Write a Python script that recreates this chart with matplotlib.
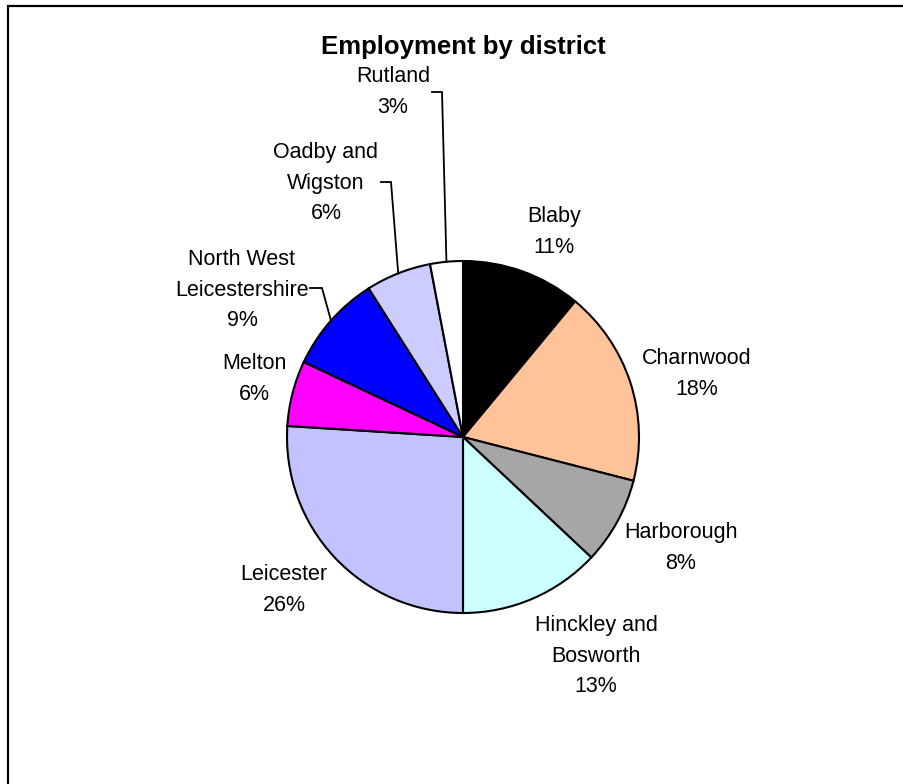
import numpy as np
import matplotlib
matplotlib.use("Agg")
import matplotlib.pyplot as plt

plt.rcParams["font.family"] = ["Liberation Sans", "DejaVu Sans"]

# employment share by district (%)
districts = ["Blaby", "Charnwood", "Harborough", "Hinckley and\nBosworth",
             "Leicester", "Melton", "North West\nLeicestershire",
             "Oadby and\nWigston", "Rutland"]
shares = [11, 18, 8, 13, 26, 6, 9, 6, 3]
colors = ["#000000", "#FFC299", "#A6A6A6", "#CCFFFF", "#C2C2FF",
          "#FF00FF", "#0000FF", "#CCCCFF", "#FFFFFF"]

# label block centres (pixels) and which labels get a leader line
label_pos = [(554, 232), (697, 374), (681, 548), (596, 656), (284, 590),
             (254, 379), (242, 290), (326, 183), (393, 92)]
leader_start = {6: (310, 288), 7: (381, 182), 8: (432, 92)}
leader_elbow = {6: (322, 288), 7: (391, 182), 8: (442, 92)}

W, H = 904, 784
fig = plt.figure(figsize=(W / 100, H / 100), dpi=100, facecolor="white")
ax = fig.add_axes([0, 0, 1, 1])

cx, cy, r = 463, 437, 176
wedges, _ = ax.pie(shares, colors=colors, startangle=-90, counterclock=True,
                   center=(cx, cy), radius=r,
                   wedgeprops=dict(edgecolor="black", linewidth=1.5))

ax.set_xlim(0, W)
ax.set_ylim(H, 0)
ax.set_aspect("auto")
ax.axis("off")

for i, (name, val) in enumerate(zip(districts, shares)):
    x, y = label_pos[i]
    ax.text(x, y, f"{name}\n{val}%", ha="center", va="center",
            fontsize=15.5, linespacing=1.62, color="black")
    if i in leader_start:
        w = wedges[i]
        mid = np.deg2rad((w.theta1 + w.theta2) / 2)
        ex, ey = cx + r * np.cos(mid), cy + r * np.sin(mid)
        sx, sy = leader_start[i]
        bx, by = leader_elbow[i]
        ax.plot([sx, bx, ex], [sy, by, ey], color="black", lw=1.3,
                solid_joinstyle="miter")

ax.text(463, 47, "Employment by district", ha="center", va="center",
        fontsize=18.5, fontweight="bold")

# chart area border (top and left edges visible)
ax.plot([8, 8, W], [H, 6, 6], color="black", lw=1.6, solid_joinstyle="miter",
        clip_on=False)

fig.savefig("out.png", dpi=100, facecolor="white")
